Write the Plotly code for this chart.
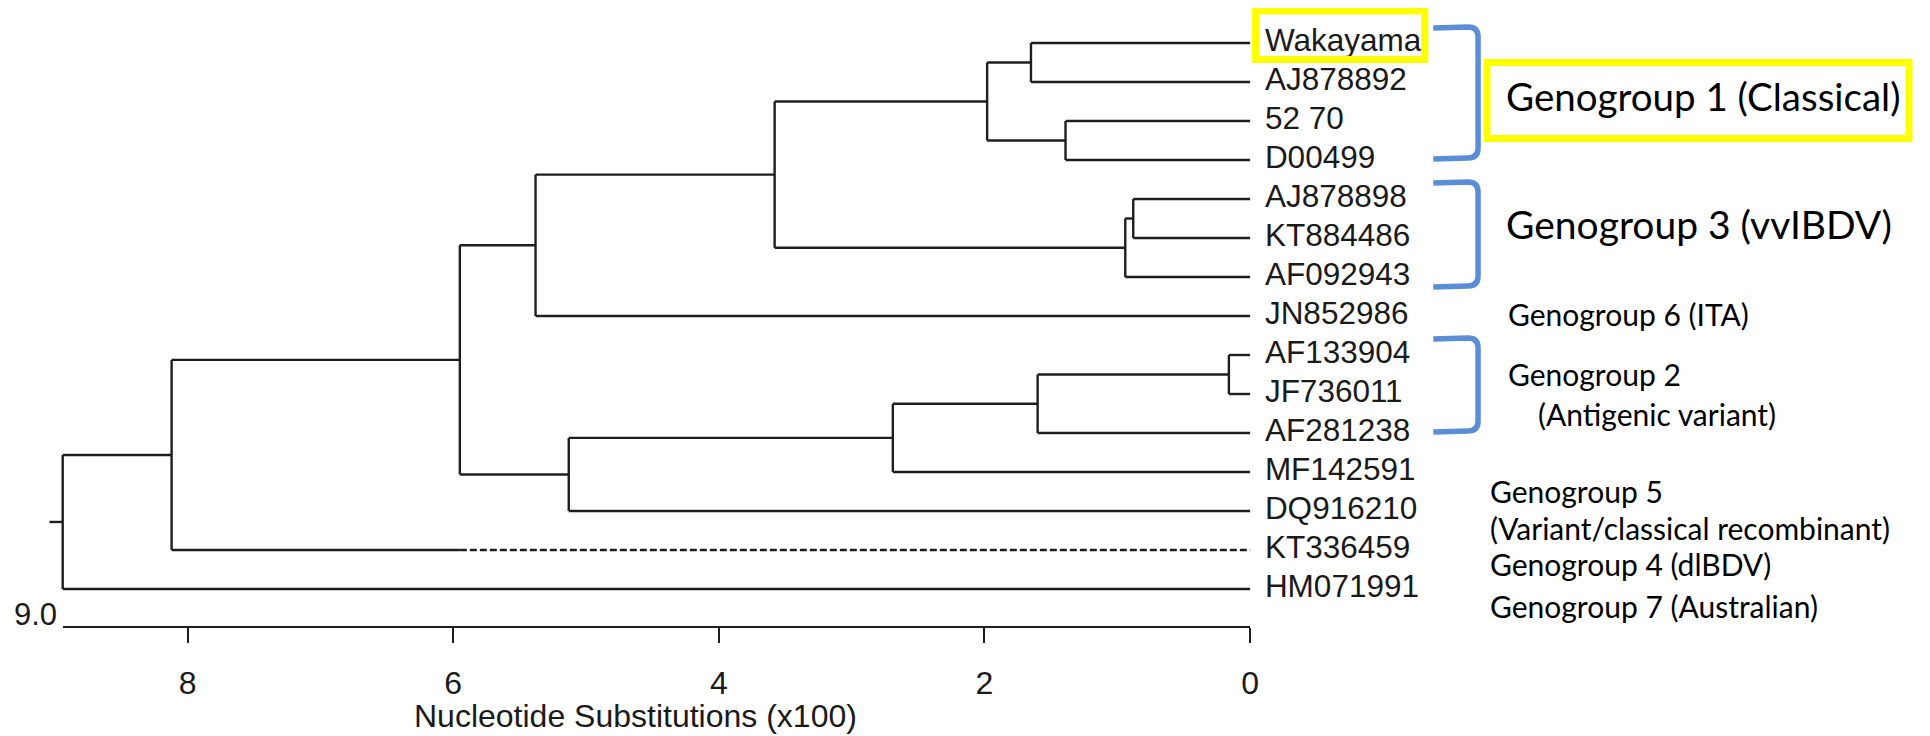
import plotly.graph_objects as go

# ---------------- data ----------------
leaf_names = ["Wakayama", "AJ878892", "52 70", "D00499", "AJ878898", "KT884486",
              "AF092943", "JN852986", "AF133904", "JF736011", "AF281238",
              "MF142591", "DQ916210", "KT336459", "HM071991"]

node_names = ["wak", "c5270", "g1", "vv1", "g3", "g13", "g136",
              "af", "g2", "mf", "dq", "a", "kt", "root"]
node_heights = [1.65, 1.39, 1.98, 0.88, 0.94, 3.58, 5.38,
                0.16, 1.60, 2.69, 5.13, 5.95, 8.12, 8.94]
node_children = [["Wakayama", "AJ878892"], ["52 70", "D00499"], ["wak", "c5270"],
                 ["AJ878898", "KT884486"], ["vv1", "AF092943"], ["g1", "g3"],
                 ["g13", "JN852986"], ["AF133904", "JF736011"], ["af", "AF281238"],
                 ["g2", "MF142591"], ["mf", "DQ916210"], ["g136", "dq"],
                 ["a", "KT336459"], ["kt", "HM071991"]]
root_stub_start = 9.04
dashed_leaf = "KT336459"
dashed_from = 5.95

axis_start = 8.94
axis_start_label = "9.0"
tick_values = [8, 6, 4, 2, 0]
tick_labels = ["8", "6", "4", "2", "0"]
axis_title = "Nucleotide Substitutions (x100)"

group_labels = ["Genogroup 1 (Classical)", "Genogroup 3 (vvIBDV)", "Genogroup 6 (ITA)",
                "Genogroup 2", "(Antigenic variant)", "Genogroup 5",
                "(Variant/classical recombinant)", "Genogroup 4 (dlBDV)",
                "Genogroup 7 (Australian)"]

# ---------------- layout helpers (page pixels of the 1930x736 window) ----------------
PAGE_W, PAGE_H = 1930, 736
BODY = 8                                   # default body margin of the html page
W, H = PAGE_W - 2 * BODY, PAGE_H - BODY    # figure size
X0_PX, PX_PER_UNIT = 1256.0, 133.45        # x=0 position and scale (page px)
Y0_PX, PX_PER_LEAF = 43.0, 39.0            # first leaf row and spacing (page px)


def px_x(v):
    return X0_PX - v * PX_PER_UNIT


def xval(px):
    return (X0_PX - px) / PX_PER_UNIT


def pfx(px):
    return (px - BODY) / W


def pfy(py):
    return 1 - (py - BODY) / H


# ---------------- tree geometry ----------------
ypos = {n: i for i, n in enumerate(leaf_names)}
hpos = {n: 0.0 for n in leaf_names}
for name, h, ch in zip(node_names, node_heights, node_children):
    ypos[name] = (ypos[ch[0]] + ypos[ch[-1]]) / 2
    hpos[name] = h

sx, sy, dx, dy = [], [], [], []
for name, h, ch in zip(node_names, node_heights, node_children):
    sx += [h, h, None]
    sy += [ypos[ch[0]], ypos[ch[-1]], None]
    for c in ch:
        if c == dashed_leaf:
            sx += [h, dashed_from, None]
            sy += [ypos[c], ypos[c], None]
            dx += [dashed_from, hpos[c], None]
            dy += [ypos[c], ypos[c], None]
        else:
            sx += [h, hpos[c], None]
            sy += [ypos[c], ypos[c], None]
root = node_names[-1]
sx += [root_stub_start, hpos[root], None]
sy += [ypos[root], ypos[root], None]

LINE = "#1e1e1e"
TXT = "#1a1a1a"
fig = go.Figure()
fig.add_trace(go.Scatter(x=sx, y=sy, mode="lines", line=dict(color=LINE, width=2.4),
                         hoverinfo="skip", showlegend=False))
fig.add_trace(go.Scatter(x=dx, y=dy, mode="lines",
                         line=dict(color=LINE, width=2.4, dash="7px,3px"),
                         hoverinfo="skip", showlegend=False))
# leaf labels (the invisible marker only pushes the text right of the tips)
fig.add_trace(go.Scatter(x=[0] * len(leaf_names), y=[ypos[n] for n in leaf_names],
                         mode="markers+text", text=leaf_names, textposition="middle right",
                         marker=dict(size=22, opacity=0),
                         textfont=dict(family="Liberation Sans, Arial", size=31.5, color=TXT),
                         hoverinfo="skip", showlegend=False, cliponaxis=False))
# invisible trace that carries the scale axis
fig.add_trace(go.Scatter(x=[0], y=[0], xaxis="x2", yaxis="y", mode="markers",
                         marker=dict(opacity=0), hoverinfo="skip", showlegend=False))

yr_top = (BODY - Y0_PX) / PX_PER_LEAF
yr_bot = (BODY + H - Y0_PX) / PX_PER_LEAF

fig.update_layout(
    width=W, height=H, margin=dict(l=0, r=0, t=0, b=0),
    paper_bgcolor="white", plot_bgcolor="rgba(0,0,0,0)",
    xaxis=dict(range=[xval(BODY), xval(BODY + W)], domain=[0, 1], visible=False),
    yaxis=dict(range=[yr_bot, yr_top], domain=[0, 1], visible=False),
    xaxis2=dict(range=[axis_start, 0], domain=[pfx(px_x(axis_start)), pfx(X0_PX)],
                anchor="free", position=pfy(626.5), showline=True, linecolor=LINE,
                linewidth=2.4, ticks="outside", ticklen=15, tickwidth=2.4, tickcolor=LINE,
                tickvals=tick_values, ticktext=tick_labels, showgrid=False, zeroline=False,
                tickfont=dict(family="Liberation Sans, Arial", size=32, color=TXT),
                ticklabelstandoff=13),
)

ann = []
ann.append(dict(x=axis_start, y=pfy(614), xref="x", yref="paper", text=axis_start_label,
                xanchor="right", yanchor="middle", xshift=-4, showarrow=False,
                font=dict(family="Liberation Sans, Arial", size=31, color=TXT)))
ann.append(dict(x=xval(638), y=pfy(716), xref="x", yref="paper", text=axis_title,
                xanchor="center", yanchor="middle", showarrow=False,
                font=dict(family="Liberation Sans, Arial", size=32, color=TXT)))

# genogroup labels: (x page px start, y page px center, size)
label_pos = [(1511, 96, 38.5), (1511, 224, 39), (1513, 314, 30), (1513, 374, 30),
             (1543, 414, 30), (1495, 491, 30), (1495, 528, 30), (1495, 564, 30),
             (1495, 606, 30)]
for t, (lx, ly, sz) in zip(group_labels, label_pos):
    ann.append(dict(x=pfx(lx), y=pfy(ly), xref="paper", yref="paper", text=t,
                    xanchor="left", yanchor="middle", showarrow=False,
                    font=dict(family="Lato", size=sz, color="black")))
fig.update_layout(annotations=ann)

# decorations
shapes = []
YEL = "#FFFF00"
shapes.append(dict(type="rect", xref="paper", yref="paper", x0=pfx(1261.5), x1=pfx(1431.5),
                   y0=pfy(11), y1=pfy(59.5), line=dict(color=YEL, width=7)))
shapes.append(dict(type="rect", xref="paper", yref="paper", x0=pfx(1494), x1=pfx(1918),
                   y0=pfy(62.5), y1=pfy(138.5), line=dict(color=YEL, width=7)))

BLUE = "#5B8ED6"
for top, bot in [(27, 158), (182, 286), (338, 431)]:
    xl, xv_ = 1440, 1485
    pts = (f"M {pfx(xl)},{pfy(top + 1)} L {pfx(xv_ - 10)},{pfy(top)} "
           f"Q {pfx(xv_)},{pfy(top)} {pfx(xv_)},{pfy(top + 10)} "
           f"L {pfx(xv_)},{pfy(bot - 10)} Q {pfx(xv_)},{pfy(bot)} {pfx(xv_ - 10)},{pfy(bot)} "
           f"L {pfx(xl)},{pfy(bot + 1)}")
    shapes.append(dict(type="path", xref="paper", yref="paper", path=pts,
                       line=dict(color=BLUE, width=5.5)))
fig.update_layout(shapes=shapes)

fig.write_html("out.html")
